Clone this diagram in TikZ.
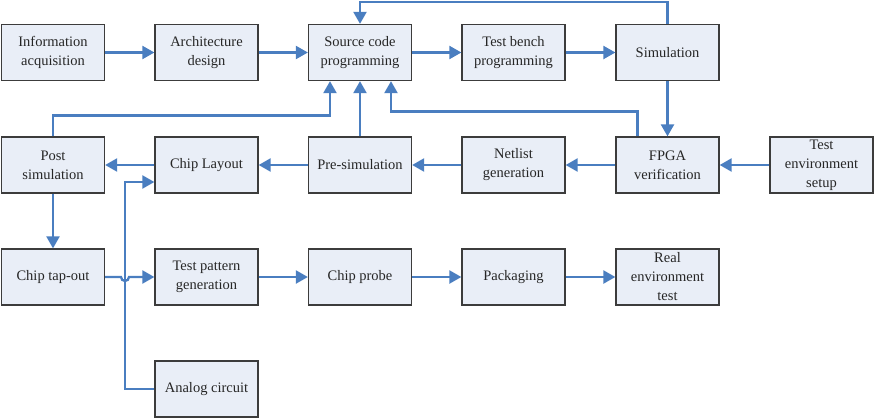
\documentclass[tikz,border=0pt]{standalone}
\usepackage{fontspec}
\setmainfont{Liberation Serif}
\usetikzlibrary{arrows.meta}
\definecolor{lineblue}{HTML}{4A7EC0}
\definecolor{boxfill}{HTML}{E9EEF7}
\definecolor{boxdraw}{HTML}{3C3C3C}
\tikzset{
  stepbox/.style={draw=boxdraw, fill=boxfill, line width=1.3pt, minimum width=103pt, minimum height=56pt, inner sep=1pt, align=center, font=\fontsize{14.5}{19}\selectfont, text=black!85},
  conn/.style={draw=lineblue, line width=2.3pt},
  arr/.style={conn, -{Triangle[length=12pt, width=13pt]}}
}
\begin{document}
\begin{tikzpicture}[x=1pt,y=-1pt]
\useasboundingbox (0,0) rectangle (882,418);
% row 1
\node[stepbox] (info) at (53,52.5) {Information\\acquisition};
\node[stepbox] (arch) at (206.5,52.5) {Architecture\\design};
\node[stepbox] (src) at (360,52.5) {Source code\\programming};
\node[stepbox] (tb) at (513.5,52.5) {Test bench\\programming};
\node[stepbox] (sim) at (667.5,52.5) {Simulation};
% row 2
\node[stepbox] (post) at (53,165) {Post\\simulation};
\node[stepbox] (layout) at (206.5,165) {Chip Layout};
\node[stepbox] (pre) at (360,165) {Pre-simulation};
\node[stepbox] (net) at (513.5,165) {Netlist\\generation};
\node[stepbox] (fpga) at (667.5,165) {FPGA\\verification};
\node[stepbox] (env) at (821.5,165) {Test\\environment\\setup};
% row 3
\node[stepbox] (tap) at (53,277) {Chip tap-out};
\node[stepbox] (tpg) at (206.5,277) {Test pattern\\generation};
\node[stepbox] (probe) at (360,277) {Chip probe};
\node[stepbox] (pack) at (513.5,277) {Packaging};
\node[stepbox] (real) at (667.5,277) {Real\\environment\\test};
% row 4
\node[stepbox] (analog) at (206.5,389) {Analog circuit};
% connectors row 1
\draw[arr] (info) -- (arch);
\draw[arr] (arch) -- (src);
\draw[arr] (src) -- (tb);
\draw[arr] (tb) -- (sim);
\draw[arr] (sim.north) -- ++(0,-22) -| (src.north);
\draw[arr] (sim) -- (fpga);
% feedback to source code
\draw[arr] (post.north) -- ++(0,-21) -| ([xshift=-30pt]src.south);
\draw[arr] (pre) -- (src);
\draw[arr] ([xshift=-30pt]fpga.north) -- ++(0,-25) -| ([xshift=31pt]src.south);
% row 2
\draw[arr] (env) -- (fpga);
\draw[arr] (fpga) -- (net);
\draw[arr] (net) -- (pre);
\draw[arr] (pre) -- (layout);
\draw[arr] (layout) -- (post);
\draw[arr] (post) -- (tap);
% analog circuit to chip layout
\coordinate (acorner) at (125,389);
\coordinate (lcorner) at (125,182);
\draw[arr] (analog.west) -- (acorner) -- (lcorner) -- ([yshift=-17pt]layout.west);
% row 3
\coordinate (hopa) at (121,277);
\draw[arr] (tap.east) -- (hopa) arc (180:0:4) -- (tpg.west);
\draw[arr] (tpg) -- (probe);
\draw[arr] (probe) -- (pack);
\draw[arr] (pack) -- (real);
\end{tikzpicture}
\end{document}
